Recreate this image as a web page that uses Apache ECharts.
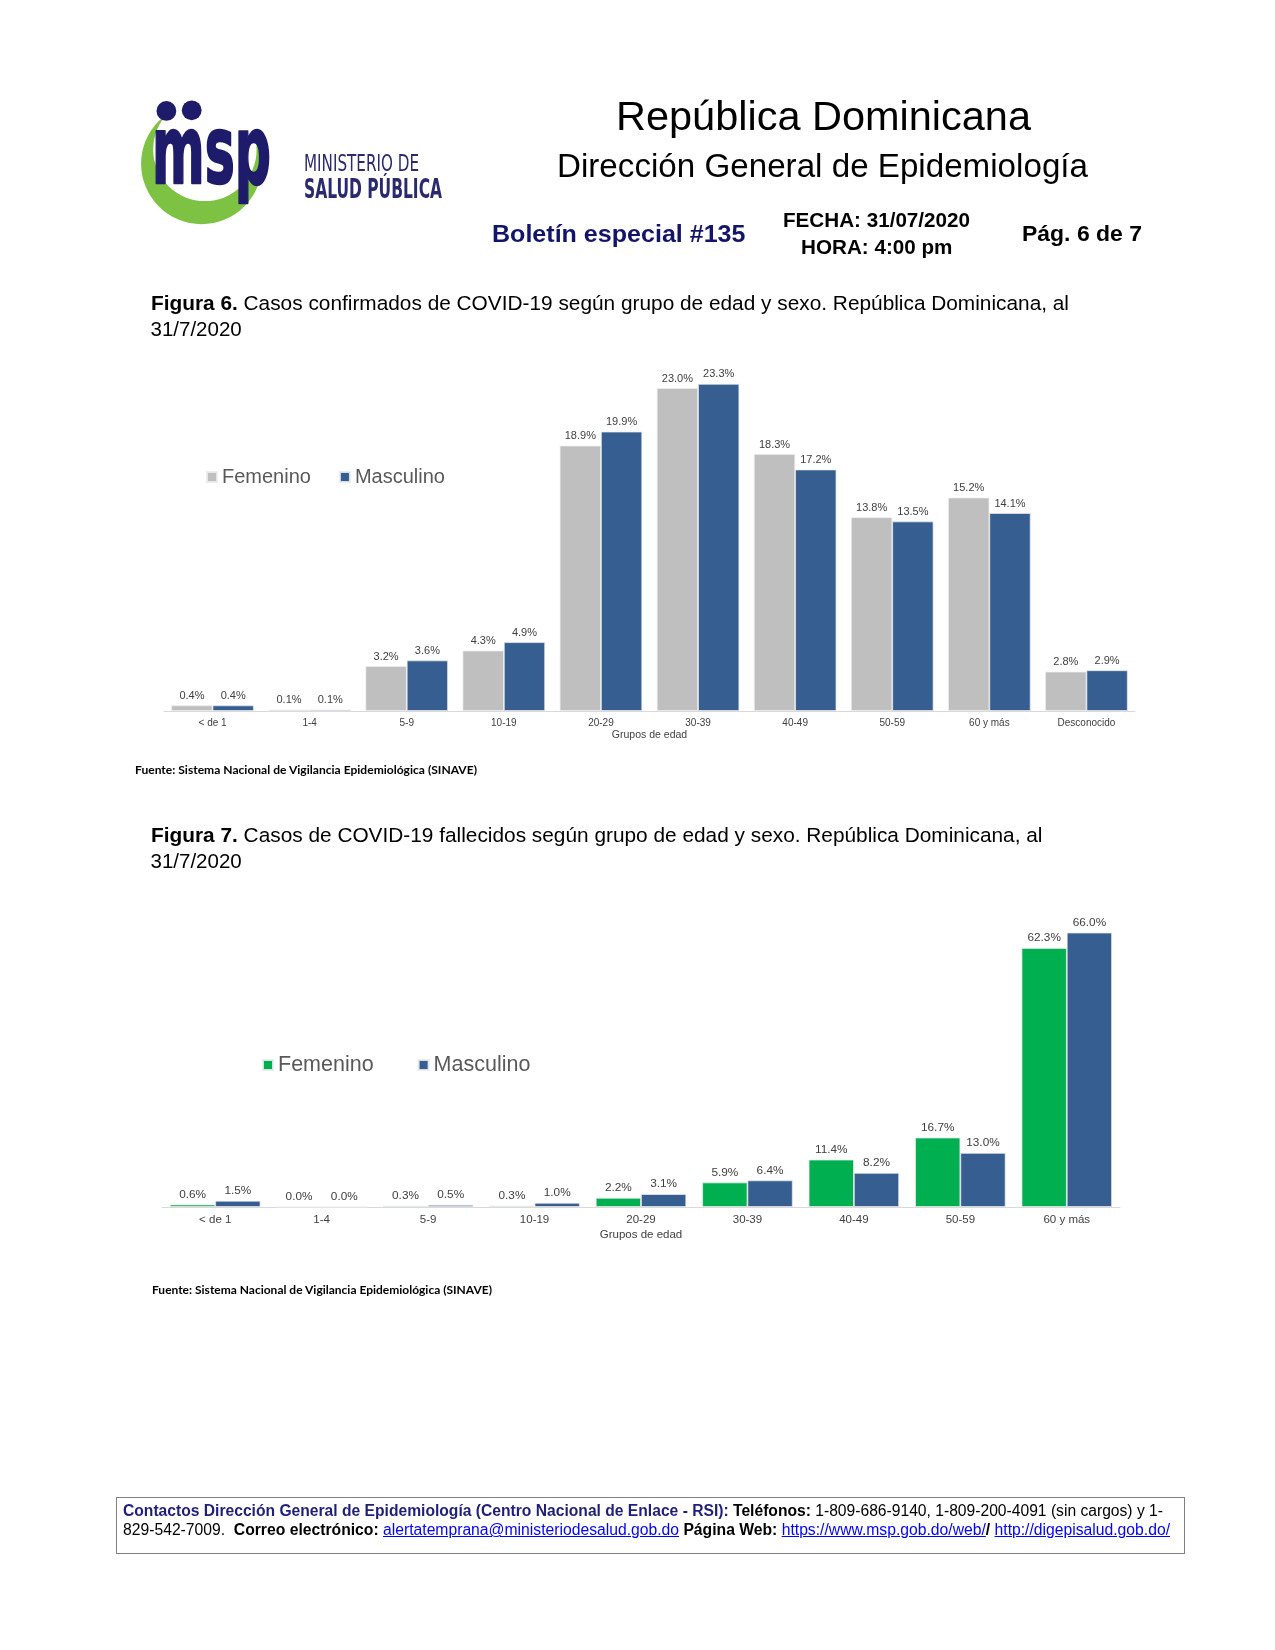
<!DOCTYPE html>
<html>
<head>
<meta charset="utf-8">
<script src="https://cdn.jsdelivr.net/npm/echarts@6/dist/echarts.min.js"></script>
<style>
  html, body { margin:0; padding:0; background:#fff; }
  body { width:1275px; height:1650px; position:relative; overflow:hidden; }
  #chart { position:absolute; left:0; top:0; width:1275px; height:1650px; }
  .t { position:absolute; white-space:nowrap; line-height:1; transform-origin:0 0;
       font-family:"Liberation Sans", Arial, sans-serif; color:#000; }
  #footbox { position:absolute; left:116px; top:1497px; width:1069px; height:57px; border:1px solid #808080; box-sizing:border-box; }
</style>
</head>
<body>
<div id="chart"></div>
<svg id="logo" style="position:absolute;left:0;top:0" width="470" height="250" xmlns="http://www.w3.org/2000/svg">
  <defs>
    <mask id="cm">
      <rect x="0" y="0" width="470" height="250" fill="white"/>
      <circle cx="199" cy="145" r="47" fill="black"/>
    </mask>
  </defs>
  <g transform="translate(140,101) scale(1.1) translate(-140,-101)">
    <circle cx="196" cy="158" r="55" fill="#7DC243" mask="url(#cm)"/>
    <text x="151" y="176" font-family="DejaVu Sans" font-weight="bold" font-size="86" fill="#1F1B6B" stroke="#1F1B6B" stroke-width="2.2" stroke-linejoin="round" textLength="108" lengthAdjust="spacingAndGlyphs">msp</text>
    <circle cx="164" cy="110" r="9" fill="#1F1B6B"/>
    <circle cx="187" cy="109.5" r="9" fill="#1F1B6B"/>
  </g>
  <text x="304" y="170.5" font-family="Liberation Sans Narrow, DejaVu Sans Condensed, Liberation Sans" font-size="23" fill="#2B2A6E" textLength="115" lengthAdjust="spacingAndGlyphs">MINISTERIO DE</text>
  <text x="304" y="197.5" font-family="Liberation Sans Narrow, DejaVu Sans Condensed, Liberation Sans" font-weight="bold" font-size="26.5" fill="#2B2A6E" textLength="138" lengthAdjust="spacingAndGlyphs">SALUD PÚBLICA</text>
</svg>
<div id="footbox"></div>
<script>
// ---------------- DATA ----------------
const categories1 = ['< de 1', '1-4', '5-9', '10-19', '20-29', '30-39', '40-49', '50-59', '60 y más', 'Desconocido'];
const femenino1 = [0.4, 0.1, 3.2, 4.3, 18.9, 23.0, 18.3, 13.8, 15.2, 2.8];
const masculino1 = [0.4, 0.1, 3.6, 4.9, 19.9, 23.3, 17.2, 13.5, 14.1, 2.9];

const categories2 = ['< de 1', '1-4', '5-9', '10-19', '20-29', '30-39', '40-49', '50-59', '60 y más'];
const femenino2 = [0.6, 0.0, 0.3, 0.3, 2.2, 5.9, 11.4, 16.7, 62.3];
const masculino2 = [1.5, 0.0, 0.5, 1.0, 3.1, 6.4, 8.2, 13.0, 66.0];

const seriesNames = ['Femenino', 'Masculino'];
const axisName = 'Grupos de edad';

// ---------------- COLOURS ----------------
const GRAY = '#BFBFBF', BLUE = '#375E91', GREEN = '#00B050';

// ---------------- CHARTS ----------------
const chart = echarts.init(document.getElementById('chart'), null, { renderer: 'canvas' });
const pct = p => p.value.toFixed(1) + '%';
const FONT = 'Liberation Sans, Arial, sans-serif';

function barSeries(name, data, color, axisIdx, fs) {
  return {
    name: name, type: 'bar', xAxisIndex: axisIdx, yAxisIndex: axisIdx,
    data: data, barGap: '0%', barCategoryGap: '15%',
    itemStyle: { color: color, borderColor: 'rgba(235,235,235,0.9)', borderWidth: 0.8 },
    label: { show: true, position: 'top', distance: 4, fontSize: fs, color: '#404040', formatter: pct, fontFamily: FONT }
  };
}

const option = {
  animation: false,
  textStyle: { fontFamily: FONT },
  grid: [
    { left: 164, width: 971, top: 360, height: 351 },
    { left: 162, width: 958, top: 916, height: 291 }
  ],
  legend: [
    { left: 206, top: 467, padding: 0, itemWidth: 10, itemHeight: 10, itemGap: 28, icon: 'rect',
      textStyle: { fontSize: 20, color: '#595959', lineHeight: 20 },
      data: [{ name: seriesNames[0], itemStyle: { color: GRAY } }, { name: seriesNames[1], itemStyle: { color: BLUE } }],
      selectedMode: false },
    { left: 262, top: 1054, padding: 0, itemWidth: 10, itemHeight: 10, itemGap: 44, icon: 'rect',
      textStyle: { fontSize: 21.5, color: '#595959', lineHeight: 21 },
      data: [{ name: seriesNames[0], itemStyle: { color: GREEN } }, { name: seriesNames[1], itemStyle: { color: BLUE } }],
      selectedMode: false }
  ],
  xAxis: [
    { type: 'category', gridIndex: 0, data: categories1,
      axisLine: { lineStyle: { color: '#D9D9D9', width: 1 } }, axisTick: { show: false },
      axisLabel: { fontSize: 10, color: '#404040', margin: 7, interval: 0 },
      name: axisName, nameLocation: 'middle', nameGap: 19,
      nameTextStyle: { fontSize: 10.5, color: '#404040' } },
    { type: 'category', gridIndex: 1, data: categories2,
      axisLine: { lineStyle: { color: '#D9D9D9', width: 1 } }, axisTick: { show: false },
      axisLabel: { fontSize: 11.5, color: '#404040', margin: 7, interval: 0 },
      name: axisName, nameLocation: 'middle', nameGap: 22,
      nameTextStyle: { fontSize: 11.5, color: '#404040' } }
  ],
  yAxis: [
    { type: 'value', gridIndex: 0, min: 0, max: 25, show: false },
    { type: 'value', gridIndex: 1, min: 0, max: 70, show: false }
  ],
  series: [
    barSeries(seriesNames[0], femenino1, GRAY, 0, 11),
    barSeries(seriesNames[1], masculino1, BLUE, 0, 11),
    barSeries(seriesNames[0], femenino2, GREEN, 1, 11.8),
    barSeries(seriesNames[1], masculino2, BLUE, 1, 11.8)
  ]
};
chart.setOption(option);

// ---------------- PAGE TEXT ----------------
function put(html, o) {
  const d = document.createElement('div');
  d.className = 't';
  d.innerHTML = html;
  d.style.fontSize = o.fs + 'px';
  if (o.bold) d.style.fontWeight = 'bold';
  if (o.color) d.style.color = o.color;
  if (o.family) d.style.fontFamily = o.family;
  document.body.appendChild(d);
  const w = d.getBoundingClientRect().width;
  const sx = o.w ? o.w / w : 1;
  let x = o.x;
  if (o.cx !== undefined) x = o.cx - (w * sx) / 2;
  d.style.left = x + 'px';
  d.style.top = (o.base - 0.8465 * o.fs) + 'px';
  d.style.transform = 'scaleX(' + sx + ')';
  return d;
}

put('República Dominicana', { cx: 823, base: 129.5, fs: 40, w: 415 });
put('Dirección General de Epidemiología', { cx: 822.5, base: 177, fs: 33, w: 531 });
put('Boletín especial #135', { x: 491.5, base: 243, fs: 24.5, bold: true, color: '#14146B', w: 253.5 });
put('FECHA: 31/07/2020', { x: 783, base: 226.5, fs: 20, bold: true, w: 187 });
put('HORA: 4:00 pm', { x: 801, base: 253.7, fs: 20, bold: true, w: 151.5 });
put('Pág. 6 de 7', { x: 1022, base: 242, fs: 22, bold: true, w: 120 });

put('<b>Figura 6.</b> Casos confirmados de COVID-19 según grupo de edad y sexo. República Dominicana, al', { x: 150.5, base: 310.5, fs: 20.5, w: 918 });
put('31/7/2020', { x: 150.5, base: 336.8, fs: 20.5 });
put('Fuente: Sistema Nacional de Vigilancia Epidemiológica (SINAVE)', { x: 135, base: 773.5, fs: 10.5, bold: true, family: 'Lato, "Open Sans", sans-serif', w: 342 });

put('<b>Figura 7.</b> Casos de COVID-19 fallecidos según grupo de edad y sexo. República Dominicana, al', { x: 150.5, base: 842, fs: 20.5, w: 891.5 });
put('31/7/2020', { x: 150.5, base: 868.4, fs: 20.5 });
put('Fuente: Sistema Nacional de Vigilancia Epidemiológica (SINAVE)', { x: 152, base: 1294, fs: 10.5, bold: true, family: 'Lato, "Open Sans", sans-serif', w: 340 });

const LINK = 'color:#0000FF;text-decoration:underline';
put('<b style="color:#1F1F7A">Contactos Dirección General de Epidemiología (Centro Nacional de Enlace - RSI):</b> <b>Teléfonos:</b> 1-809-686-9140, 1-809-200-4091 (sin cargos) y 1-',
    { x: 123, base: 1517, fs: 16, w: 1040 });
put('829-542-7009.&nbsp; <b>Correo electrónico:</b> <span style="' + LINK + '">alertatemprana@ministeriodesalud.gob.do</span> <b>Página Web:</b> <span style="' + LINK + '">https://www.msp.gob.do/web/</span><b>/</b> <span style="' + LINK + '">http://digepisalud.gob.do/</span>',
    { x: 123, base: 1536, fs: 16, w: 1047 });
</script>
</body>
</html>
